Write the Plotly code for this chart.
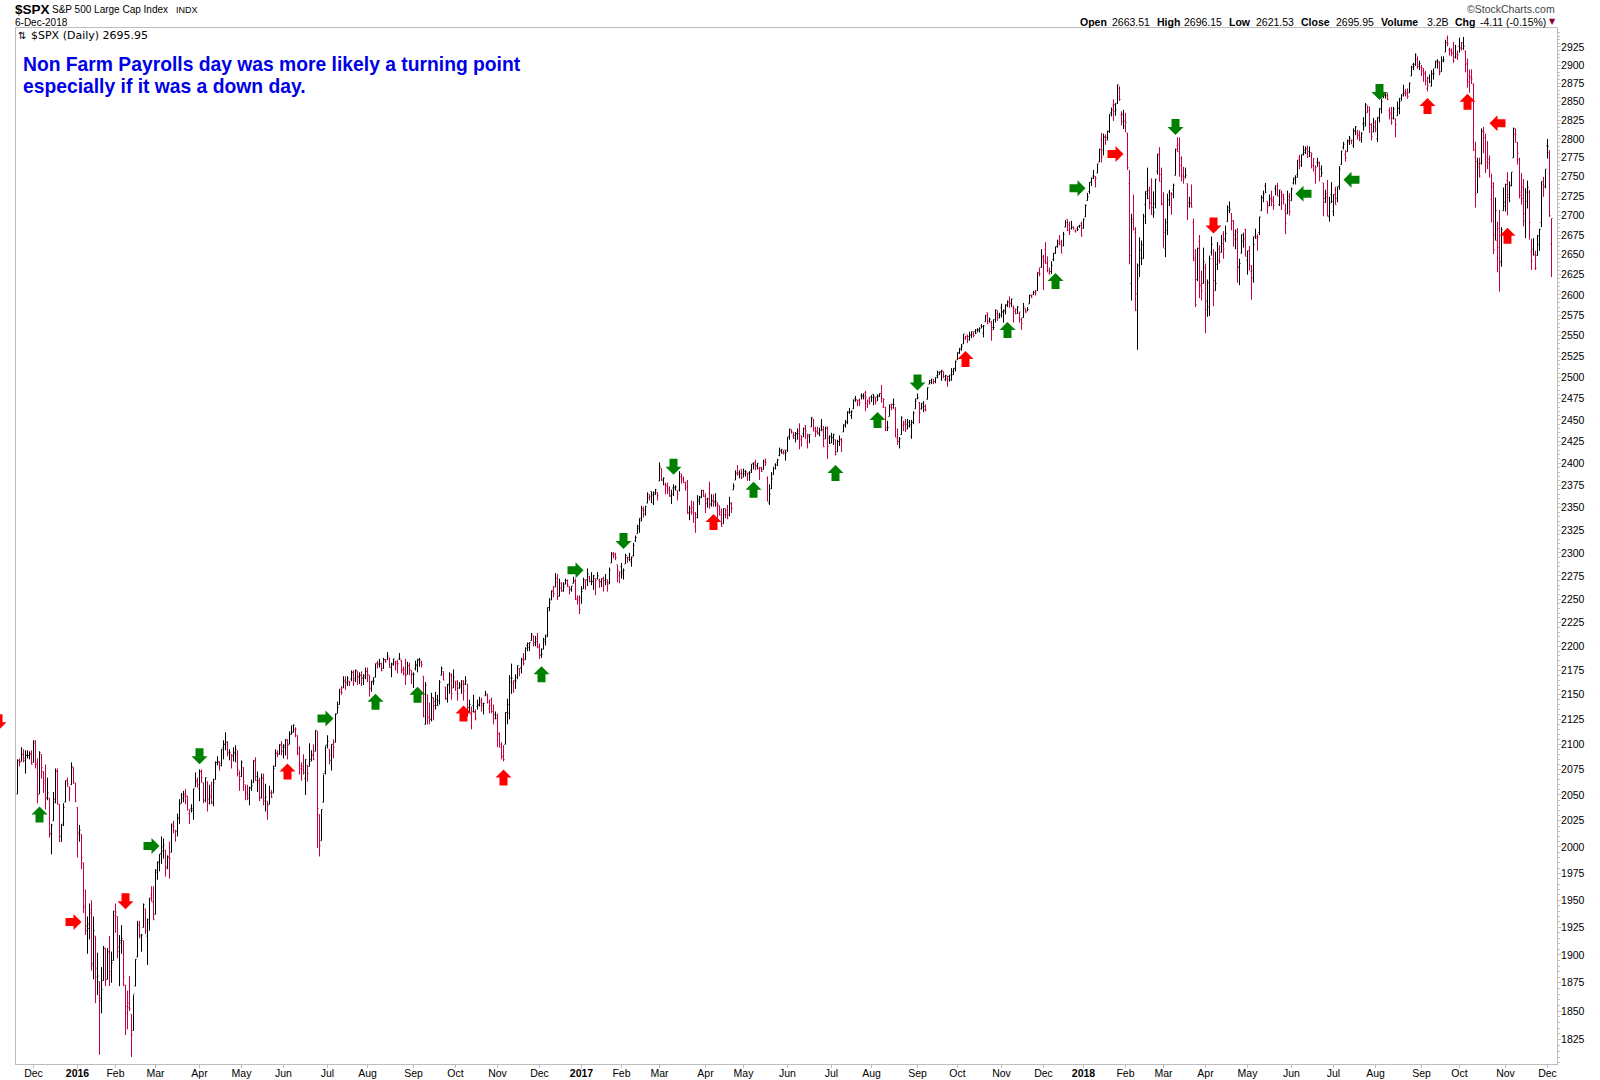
import math
import plotly.graph_objects as go

# Each month: daily bars as open, high, low, close
nov15=[[2051,2085,2051,2084],[2084,2086,2078,2082],[2083,2097,2083,2090],[2090,2095,2082,2086],[2084,2094,2071,2089],[2089,2094,2086,2089],[2089,2093,2085,2090],[2091,2094,2080,2080]]
dec15=[[2082,2104,2082,2103],[2101,2104,2076,2080],[2081,2086,2042,2050],[2051,2093,2051,2092],[2090,2090,2066,2077],[2073,2073,2052,2064],[2061,2080,2036,2047],[2047,2067,2045,2052],[2047,2047,2009,2012],[2013,2022,1993,2021],[2025,2053,2025,2043],[2046,2076,2042,2073],[2074,2076,2041,2041],[2041,2041,2005,2005],[2010,2022,2005,2021],[2023,2042,2020,2038],[2043,2064,2043,2064],[2064,2067,2058,2061],[2058,2058,2044,2056],[2060,2082,2060,2078],[2077,2077,2061,2063],[2061,2062,2043,2044]]
jan16=[[2038,2038,1990,2012],[2014,2021,2005,2016],[2012,2012,1979,1990],[1985,1985,1938,1943],[1945,1960,1918,1922],[1926,1935,1901,1924],[1928,1947,1914,1938],[1941,1950,1886,1890],[1892,1935,1878,1922],[1917,1917,1857,1880],[1888,1902,1864,1881],[1876,1876,1812,1859],[1861,1889,1848,1869],[1877,1908,1877,1906],[1906,1906,1872,1878],[1878,1906,1878,1903],[1902,1917,1872,1882],[1885,1903,1875,1893],[1895,1940,1895,1940]]
feb16=[[1936,1947,1920,1939],[1935,1935,1897,1903],[1907,1918,1872,1913],[1911,1927,1901,1915],[1913,1913,1872,1880],[1873,1873,1829,1854],[1848,1868,1834,1853],[1857,1881,1850,1852],[1847,1847,1810,1829],[1833,1864,1833,1865],[1872,1896,1872,1896],[1898,1931,1898,1927],[1928,1931,1915,1918],[1917,1919,1903,1918],[1925,1947,1925,1946],[1942,1942,1919,1922],[1917,1933,1891,1929],[1932,1952,1922,1952],[1955,1963,1949,1949],[1948,1963,1932,1932]]
mar16=[[1937,1979,1937,1978],[1976,1986,1969,1986],[1985,1993,1977,1993],[1994,2010,1984,2000],[1996,2008,1989,2002],[1997,1997,1972,1980],[1981,1992,1979,1990],[1991,2005,1970,1989],[1995,2022,1995,2022],[2020,2025,2013,2020],[2016,2016,2005,2015],[2015,2032,2010,2028],[2027,2046,2022,2041],[2042,2052,2042,2050],[2047,2054,2043,2051],[2049,2056,2041,2049],[2049,2049,2035,2036],[2032,2036,2022,2035],[2037,2041,2033,2037],[2035,2056,2026,2056],[2058,2072,2058,2064],[2063,2067,2057,2060]]
apr16=[[2056,2075,2044,2073],[2073,2075,2062,2067],[2062,2062,2042,2045],[2045,2067,2043,2067],[2063,2063,2034,2042],[2046,2060,2041,2048],[2050,2063,2041,2042],[2043,2066,2039,2062],[2065,2083,2065,2082],[2082,2088,2079,2082],[2083,2083,2074,2081],[2079,2095,2078,2095],[2097,2104,2085,2100],[2100,2112,2094,2102],[2102,2103,2088,2091],[2092,2095,2084,2092],[2090,2090,2076,2088],[2089,2097,2083,2091],[2092,2099,2082,2095],[2090,2094,2068,2075],[2071,2074,2054,2065]]
may16=[[2068,2084,2068,2082],[2077,2077,2054,2063],[2060,2060,2045,2051],[2053,2060,2045,2050],[2047,2058,2040,2057],[2057,2065,2054,2059],[2062,2084,2062,2084],[2083,2087,2064,2064],[2068,2073,2053,2064],[2062,2067,2044,2047],[2047,2071,2047,2067],[2066,2071,2040,2047],[2044,2061,2034,2048],[2044,2044,2026,2040],[2041,2059,2041,2052],[2052,2055,2047,2048],[2052,2079,2052,2076],[2078,2095,2078,2091],[2091,2094,2087,2090],[2090,2100,2090,2099],[2100,2103,2089,2097]]
jun16=[[2093,2100,2086,2099],[2097,2105,2089,2105],[2104,2105,2085,2099],[2100,2113,2100,2110],[2110,2119,2110,2112],[2112,2120,2112,2119],[2115,2117,2107,2115],[2109,2109,2089,2096],[2091,2098,2070,2079],[2076,2082,2064,2075],[2078,2090,2070,2072],[2066,2085,2050,2085],[2079,2079,2063,2071],[2078,2101,2078,2083],[2085,2094,2083,2089],[2090,2100,2084,2085],[2093,2114,2093,2114],[2113,2113,1999,2037],[2031,2031,1991,2001],[2006,2036,2006,2036],[2043,2070,2043,2071],[2073,2098,2070,2099]]
jul16=[[2099,2109,2096,2103],[2095,2095,2080,2089],[2084,2100,2074,2100],[2100,2105,2086,2097],[2102,2131,2102,2130],[2131,2143,2131,2137],[2140,2156,2140,2153],[2156,2159,2150,2152],[2157,2169,2157,2164],[2165,2169,2155,2162],[2163,2169,2159,2167],[2164,2164,2159,2163],[2166,2175,2164,2173],[2173,2175,2159,2165],[2167,2176,2163,2175],[2174,2174,2160,2169],[2168,2173,2161,2170],[2170,2174,2159,2167],[2167,2171,2160,2170],[2168,2178,2166,2174]]
aug16=[[2174,2178,2163,2171],[2170,2170,2148,2157],[2156,2164,2153,2164],[2163,2168,2160,2164],[2168,2182,2168,2182],[2183,2185,2177,2181],[2182,2187,2178,2182],[2182,2183,2174,2175],[2177,2188,2177,2186],[2186,2187,2183,2184],[2186,2194,2186,2190],[2188,2188,2178,2178],[2178,2183,2168,2182],[2181,2187,2180,2187],[2184,2185,2175,2184],[2182,2186,2172,2182],[2187,2193,2186,2187],[2185,2186,2172,2176],[2175,2179,2170,2172],[2176,2187,2160,2170],[2171,2184,2171,2180],[2180,2183,2170,2176],[2175,2175,2161,2171]]
sep16=[[2171,2173,2157,2171],[2177,2185,2175,2180],[2181,2187,2173,2186],[2186,2188,2179,2186],[2183,2185,2178,2181],[2169,2169,2127,2128],[2120,2163,2120,2160],[2150,2150,2120,2127],[2127,2142,2120,2125],[2125,2152,2123,2147],[2147,2147,2124,2139],[2143,2153,2135,2139],[2145,2150,2139,2139],[2144,2165,2140,2163],[2170,2179,2170,2177],[2174,2174,2165,2165],[2158,2158,2145,2146],[2146,2161,2142,2160],[2161,2173,2151,2171],[2169,2172,2145,2151],[2157,2176,2157,2168]]
oct16=[[2164,2164,2154,2161],[2164,2165,2144,2151],[2157,2163,2156,2160],[2158,2165,2151,2161],[2164,2165,2144,2154],[2161,2169,2160,2164],[2161,2161,2128,2137],[2137,2145,2132,2140],[2130,2138,2115,2133],[2139,2150,2132,2133],[2132,2135,2124,2126],[2138,2145,2135,2139],[2140,2148,2138,2144],[2142,2147,2133,2141],[2139,2142,2130,2141],[2149,2154,2149,2151],[2149,2151,2141,2143],[2136,2145,2131,2139],[2145,2147,2131,2133],[2133,2140,2120,2126],[2130,2133,2125,2126]]
nov16=[[2129,2131,2097,2111],[2110,2112,2097,2097],[2100,2102,2085,2088],[2088,2099,2083,2085],[2100,2132,2100,2132],[2132,2146,2120,2140],[2131,2170,2125,2163],[2167,2182,2151,2167],[2162,2165,2152,2164],[2165,2171,2156,2164],[2168,2180,2166,2180],[2177,2177,2169,2177],[2178,2188,2172,2187],[2186,2193,2180,2182],[2186,2199,2186,2198],[2201,2204,2195,2203],[2199,2204,2195,2204],[2206,2214,2206,2213],[2211,2211,2200,2202],[2204,2211,2200,2205],[2208,2214,2198,2199]]
dec16=[[2200,2203,2187,2191],[2191,2198,2188,2192],[2197,2209,2197,2205],[2207,2212,2201,2212],[2210,2241,2210,2241],[2241,2251,2237,2246],[2249,2259,2249,2259],[2258,2264,2252,2256],[2263,2278,2263,2272],[2268,2277,2249,2253],[2253,2272,2253,2262],[2267,2268,2258,2258],[2259,2268,2258,2263],[2266,2272,2266,2270],[2270,2271,2263,2265],[2263,2264,2255,2261],[2260,2264,2258,2264],[2267,2274,2267,2269],[2270,2272,2249,2250],[2250,2254,2244,2249],[2252,2254,2234,2239]]
jan17=[[2251,2264,2245,2258],[2261,2273,2261,2271],[2269,2271,2260,2270],[2271,2283,2264,2277],[2274,2275,2268,2269],[2269,2279,2265,2269],[2269,2276,2260,2275],[2272,2272,2254,2270],[2272,2279,2271,2275],[2270,2272,2262,2268],[2269,2272,2263,2272],[2272,2274,2258,2264],[2270,2277,2265,2271],[2268,2271,2258,2266],[2268,2284,2266,2281],[2289,2301,2289,2298],[2299,2301,2294,2297],[2299,2300,2292,2295],[2287,2287,2268,2281],[2275,2280,2267,2279]]
feb17=[[2285,2289,2272,2280],[2277,2283,2271,2281],[2288,2299,2288,2297],[2295,2296,2289,2293],[2295,2300,2291,2293],[2290,2296,2285,2295],[2297,2311,2296,2308],[2313,2319,2312,2317],[2321,2331,2321,2329],[2327,2338,2322,2338],[2335,2352,2335,2349],[2347,2351,2339,2347],[2343,2352,2341,2351],[2355,2367,2355,2365],[2361,2365,2358,2362],[2368,2368,2355,2364],[2355,2368,2353,2367],[2365,2371,2364,2370],[2367,2367,2358,2364]]
mar17=[[2380,2401,2380,2396],[2394,2394,2380,2381],[2381,2384,2375,2383],[2376,2378,2365,2375],[2374,2378,2365,2369],[2371,2374,2362,2363],[2363,2370,2354,2365],[2372,2376,2363,2373],[2372,2375,2369,2373],[2369,2369,2358,2365],[2370,2391,2368,2385],[2388,2388,2377,2381],[2383,2385,2378,2378],[2378,2379,2369,2373],[2379,2381,2343,2344],[2344,2352,2336,2349],[2345,2358,2342,2345],[2350,2357,2333,2344],[2329,2345,2322,2342],[2339,2364,2338,2359],[2357,2363,2353,2362],[2361,2370,2361,2369],[2369,2370,2362,2363]]
apr17=[[2362,2366,2344,2359],[2355,2361,2350,2360],[2366,2379,2349,2353],[2354,2365,2351,2358],[2357,2365,2351,2356],[2357,2366,2351,2357],[2354,2356,2335,2353],[2352,2352,2341,2345],[2342,2349,2329,2329],[2332,2349,2332,2349],[2342,2349,2338,2342],[2347,2353,2337,2338],[2342,2362,2340,2355],[2354,2356,2344,2349],[2370,2377,2370,2374],[2381,2392,2381,2389],[2388,2398,2386,2387],[2389,2392,2383,2388],[2393,2393,2382,2384]]
may17=[[2388,2394,2384,2388],[2391,2392,2385,2391],[2389,2389,2380,2388],[2389,2391,2380,2389],[2392,2399,2389,2399],[2400,2401,2393,2399],[2401,2404,2392,2397],[2397,2400,2393,2400],[2394,2396,2381,2394],[2395,2396,2390,2391],[2393,2404,2393,2402],[2405,2405,2397,2401],[2383,2385,2357,2357],[2355,2376,2353,2365],[2371,2390,2371,2382],[2387,2396,2387,2394],[2398,2400,2393,2398],[2401,2405,2397,2404],[2409,2418,2408,2415],[2414,2416,2411,2416],[2412,2415,2410,2412],[2415,2415,2403,2412]]
jun17=[[2415,2430,2413,2430],[2431,2440,2427,2439],[2437,2439,2434,2436],[2431,2436,2428,2429],[2432,2436,2424,2434],[2434,2440,2427,2434],[2437,2446,2416,2432],[2427,2432,2419,2430],[2434,2441,2430,2440],[2443,2444,2428,2437],[2424,2434,2417,2433],[2431,2433,2423,2433],[2442,2453,2442,2453],[2451,2451,2437,2437],[2440,2442,2430,2436],[2437,2442,2433,2435],[2434,2441,2431,2438],[2443,2451,2437,2439],[2437,2443,2419,2419],[2428,2442,2428,2440],[2442,2442,2405,2419],[2429,2432,2422,2423]]
jul17=[[2431,2435,2423,2429],[2430,2434,2421,2433],[2427,2427,2409,2410],[2413,2427,2413,2425],[2425,2432,2420,2427],[2427,2429,2413,2425],[2436,2445,2436,2443],[2445,2450,2441,2447],[2448,2460,2445,2459],[2459,2464,2457,2459],[2455,2461,2451,2460],[2463,2474,2463,2473],[2475,2478,2471,2474],[2473,2473,2466,2473],[2473,2475,2466,2470],[2478,2481,2474,2477],[2479,2481,2474,2478],[2482,2484,2460,2476],[2469,2474,2464,2472],[2475,2477,2468,2470]]
aug17=[[2477,2479,2471,2476],[2480,2480,2467,2478],[2476,2477,2468,2472],[2477,2480,2472,2477],[2478,2481,2477,2481],[2481,2491,2470,2475],[2465,2475,2464,2474],[2465,2465,2437,2438],[2441,2449,2437,2441],[2454,2468,2454,2465],[2468,2469,2461,2464],[2468,2475,2463,2468],[2462,2465,2430,2430],[2428,2440,2421,2425],[2425,2430,2417,2428],[2433,2454,2433,2453],[2444,2449,2437,2445],[2447,2451,2436,2439],[2445,2451,2439,2443],[2447,2450,2441,2444],[2431,2450,2428,2447],[2447,2460,2445,2458],[2463,2475,2463,2472]]
sep17=[[2475,2481,2474,2476],[2470,2471,2446,2458],[2463,2470,2462,2465],[2469,2472,2459,2466],[2462,2468,2460,2461],[2474,2488,2474,2488],[2492,2497,2492,2496],[2494,2498,2492,2498],[2494,2498,2492,2495],[2495,2500,2493,2500],[2502,2508,2499,2503],[2506,2507,2503,2506],[2507,2509,2496,2508],[2507,2507,2499,2501],[2497,2503,2496,2502],[2499,2502,2489,2497],[2501,2503,2495,2497],[2503,2511,2496,2507],[2503,2511,2503,2510],[2511,2520,2507,2519]]
oct17=[[2521,2530,2521,2529],[2530,2535,2528,2535],[2533,2540,2532,2537],[2540,2552,2540,2552],[2547,2550,2545,2549],[2551,2551,2541,2545],[2549,2555,2544,2551],[2550,2555,2547,2555],[2552,2555,2548,2550],[2555,2558,2552,2553],[2557,2559,2554,2557],[2557,2560,2554,2559],[2562,2564,2559,2561],[2553,2563,2548,2562],[2567,2575,2567,2575],[2578,2578,2564,2565],[2568,2572,2566,2570],[2566,2568,2544,2557],[2560,2570,2557,2560],[2570,2582,2566,2581],[2577,2581,2568,2572],[2575,2578,2571,2575]]
nov17=[[2584,2589,2572,2579],[2579,2582,2566,2580],[2581,2588,2576,2588],[2587,2593,2585,2591],[2592,2598,2584,2590],[2589,2595,2585,2595],[2584,2587,2566,2584],[2580,2583,2576,2582],[2577,2586,2577,2585],[2577,2579,2566,2579],[2570,2572,2557,2565],[2572,2590,2572,2585],[2583,2583,2578,2578],[2580,2585,2580,2582],[2589,2600,2589,2599],[2600,2600,2596,2597],[2600,2605,2600,2603],[2603,2606,2599,2602],[2605,2628,2605,2627],[2628,2634,2623,2626],[2634,2657,2634,2648]]
dec17=[[2645,2650,2606,2642],[2657,2666,2639,2639],[2640,2648,2628,2630],[2627,2634,2625,2629],[2629,2642,2626,2637],[2644,2652,2642,2652],[2652,2660,2651,2660],[2661,2669,2659,2664],[2667,2675,2662,2663],[2666,2669,2652,2652],[2661,2679,2661,2676],[2685,2694,2685,2691],[2695,2695,2680,2681],[2688,2692,2675,2679],[2683,2693,2682,2685],[2685,2686,2682,2683],[2680,2682,2678,2680],[2683,2686,2680,2682],[2686,2688,2684,2687],[2690,2692,2673,2674]]
jan18=[[2684,2696,2683,2695],[2698,2714,2698,2713],[2719,2729,2719,2724],[2731,2743,2728,2743],[2743,2749,2738,2748],[2751,2759,2747,2751],[2745,2751,2736,2748],[2755,2767,2755,2767],[2770,2787,2769,2786],[2799,2808,2769,2776],[2785,2807,2778,2803],[2802,2806,2792,2798],[2802,2811,2798,2810],[2810,2833,2808,2833],[2835,2842,2830,2839],[2845,2853,2824,2837],[2846,2848,2831,2839],[2848,2873,2847,2873],[2868,2871,2851,2853],[2832,2837,2818,2823],[2833,2839,2813,2824]]
feb18=[[2817,2835,2809,2822],[2808,2808,2759,2762],[2741,2759,2638,2649],[2614,2702,2593,2695],[2691,2727,2681,2682],[2678,2685,2580,2581],[2601,2639,2533,2620],[2637,2672,2622,2656],[2646,2668,2637,2663],[2645,2702,2645,2699],[2714,2731,2689,2731],[2728,2762,2721,2732],[2722,2737,2708,2716],[2716,2748,2701,2701],[2710,2731,2697,2704],[2715,2747,2709,2747],[2757,2780,2753,2780],[2778,2789,2744,2744],[2753,2762,2713,2714]]
mar18=[[2715,2730,2659,2678],[2658,2696,2647,2691],[2681,2728,2675,2720],[2730,2733,2712,2728],[2710,2730,2701,2727],[2733,2741,2722,2739],[2752,2787,2752,2786],[2791,2802,2783,2783],[2793,2802,2750,2765],[2774,2777,2744,2750],[2752,2763,2741,2747],[2750,2762,2748,2752],[2741,2741,2694,2712],[2716,2724,2710,2716],[2715,2740,2710,2711],[2691,2696,2642,2643],[2646,2657,2585,2588],[2619,2659,2617,2658],[2667,2675,2596,2612],[2611,2630,2593,2605],[2614,2659,2614,2641]]
apr18=[[2634,2639,2553,2582],[2592,2619,2573,2615],[2585,2649,2574,2645],[2653,2673,2649,2663],[2645,2657,2586,2605],[2618,2654,2605,2614],[2638,2666,2631,2657],[2643,2662,2639,2642],[2653,2675,2653,2664],[2676,2680,2645,2657],[2670,2687,2666,2677],[2692,2713,2692,2706],[2710,2718,2703,2708],[2702,2703,2681,2693],[2693,2694,2660,2670],[2675,2682,2657,2670],[2680,2684,2615,2635],[2634,2645,2612,2639],[2652,2676,2652,2667],[2675,2678,2659,2670],[2682,2683,2648,2648]]
may18=[[2643,2655,2625,2655],[2655,2661,2630,2636],[2629,2637,2594,2630],[2621,2673,2615,2663],[2673,2683,2670,2673],[2671,2676,2655,2672],[2678,2698,2675,2698],[2706,2726,2706,2723],[2723,2732,2717,2728],[2738,2742,2729,2730],[2718,2718,2702,2711],[2713,2727,2712,2722],[2720,2732,2712,2720],[2718,2725,2707,2713],[2735,2739,2726,2733],[2738,2742,2725,2725],[2714,2733,2712,2733],[2730,2732,2707,2727],[2724,2728,2714,2721],[2706,2715,2676,2690],[2702,2732,2702,2725],[2720,2729,2700,2705]]
jun18=[[2719,2736,2719,2734],[2742,2749,2740,2746],[2749,2752,2740,2749],[2753,2772,2749,2772],[2775,2779,2760,2770],[2765,2779,2763,2779],[2780,2791,2778,2782],[2785,2790,2780,2787],[2787,2791,2775,2776],[2783,2790,2776,2782],[2777,2782,2761,2780],[2765,2774,2757,2774],[2754,2765,2741,2762],[2769,2775,2763,2767],[2769,2770,2744,2750],[2760,2765,2750,2755],[2742,2742,2699,2717],[2722,2733,2716,2724],[2728,2746,2699,2699],[2699,2724,2692,2716],[2727,2743,2716,2718]]
jul18=[[2705,2727,2699,2727],[2733,2737,2714,2714],[2722,2737,2717,2737],[2738,2764,2733,2760],[2766,2784,2766,2784],[2789,2796,2786,2793],[2779,2785,2770,2775],[2783,2799,2783,2798],[2796,2804,2792,2801],[2798,2799,2793,2798],[2791,2814,2788,2810],[2811,2817,2805,2816],[2809,2812,2799,2805],[2805,2811,2797,2802],[2799,2809,2795,2807],[2820,2829,2811,2821],[2817,2848,2817,2846],[2835,2845,2835,2838],[2843,2843,2808,2819],[2819,2821,2798,2803],[2809,2828,2809,2816]]
aug18=[[2822,2825,2809,2813],[2800,2829,2796,2828],[2829,2841,2822,2840],[2841,2854,2834,2850],[2855,2863,2855,2858],[2858,2862,2854,2858],[2859,2862,2852,2853],[2838,2842,2826,2833],[2835,2843,2819,2822],[2828,2843,2826,2840],[2827,2827,2802,2819],[2831,2850,2831,2841],[2841,2855,2833,2850],[2854,2860,2851,2858],[2861,2873,2857,2863],[2861,2867,2857,2862],[2860,2868,2854,2857],[2862,2876,2862,2875],[2885,2899,2885,2897],[2901,2903,2893,2898],[2901,2916,2899,2914],[2908,2912,2895,2901],[2898,2906,2893,2902]]
sep18=[[2897,2900,2885,2896],[2892,2896,2877,2888],[2889,2892,2872,2878],[2868,2884,2864,2872],[2882,2887,2875,2877],[2871,2893,2871,2888],[2888,2895,2880,2888],[2896,2906,2896,2904],[2906,2908,2895,2905],[2903,2905,2886,2889],[2891,2912,2891,2905],[2907,2912,2904,2907],[2918,2935,2918,2931],[2937,2941,2926,2930],[2921,2924,2913,2919],[2921,2923,2912,2916],[2917,2932,2903,2906],[2911,2928,2909,2915],[2911,2920,2907,2914]]
oct18=[[2926,2938,2917,2924],[2923,2932,2920,2923],[2931,2939,2921,2926],[2919,2920,2890,2901],[2902,2909,2869,2885],[2877,2894,2862,2884],[2882,2894,2874,2881],[2873,2875,2784,2786],[2776,2796,2710,2728],[2770,2775,2729,2767],[2763,2775,2749,2751],[2768,2814,2766,2810],[2811,2816,2781,2809],[2802,2807,2755,2769],[2776,2797,2760,2768],[2773,2778,2749,2756],[2721,2754,2691,2741],[2737,2743,2651,2656],[2675,2723,2668,2706],[2668,2692,2628,2659],[2683,2707,2604,2641],[2641,2685,2635,2682],[2706,2736,2706,2712]]
nov18=[[2717,2741,2705,2740],[2745,2756,2700,2723],[2727,2744,2717,2739],[2738,2756,2738,2756],[2775,2815,2775,2814],[2806,2814,2795,2806],[2795,2796,2766,2781],[2773,2775,2722,2726],[2730,2755,2714,2722],[2737,2747,2686,2702],[2693,2735,2671,2730],[2718,2745,2709,2736],[2730,2733,2669,2691],[2654,2670,2631,2642],[2657,2671,2649,2650],[2633,2655,2631,2633],[2649,2675,2649,2674],[2663,2683,2655,2682],[2691,2744,2685,2744],[2740,2750,2724,2738],[2737,2760,2735,2760]]
dec18=[[2791,2800,2774,2790],[2782,2785,2698,2700],[2664,2696,2622,2696]]

months=[nov15,dec15,jan16,feb16,mar16,apr16,may16,jun16,jul16,aug16,sep16,oct16,nov16,dec16,jan17,feb17,mar17,apr17,may17,jun17,jul17,aug17,sep17,oct17,nov17,dec17,jan18,feb18,mar18,apr18,may18,jun18,jul18,aug18,sep18,oct18,nov18,dec18]
month_labels=["","Dec","<b>2016</b>","Feb","Mar","Apr","May","Jun","Jul","Aug","Sep","Oct","Nov","Dec","<b>2017</b>","Feb","Mar","Apr","May","Jun","Jul","Aug","Sep","Oct","Nov","Dec","<b>2018</b>","Feb","Mar","Apr","May","Jun","Jul","Aug","Sep","Oct","Nov","Dec"]
price_ticks=list(range(1825,2926,25))
minor_ticks=[p for p in range(1805,2950,5) if p%25]

# Non-farm-payrolls arrows: bar position, price, direction, colour
arrow_bar=[-9.5,11,28,54,67,91,135,154,179,200,223,243,262,279,303,328,348,368,409,430,450,474,495,519,530,549,579,598,643,667,681,705,725,740,745]
arrow_price=[2122,2031,1930,1949,2001,2088,2073,2126,2143,2150,2131,2067,2171,2281,2313,2396,2334,2370,2389,2450,2494,2522,2557,2617,2735,2780,2816,2687,2728,2746,2863,2844,2850,2821,2674]
arrow_dir=["d","u","r","d","r","d","u","r","u","u","u","u","u","r","d","d","u","u","u","u","d","u","u","u","r","r","d","d","l","l","d","u","u","l","u"]
arrow_col=["r","g","r","r","g","g","r","g","g","g","r","r","g","g","g","g","r","g","g","g","g","r","g","g","g","r","g","r","g","g","g","r","r","r","r"]

rows=[r for m in months for r in m]
xs=list(range(len(rows)))
prev=[rows[0][0]]+[r[3] for r in rows[:-1]]
up=[i for i in xs if rows[i][3]>=prev[i]]
dn=[i for i in xs if rows[i][3]<prev[i]]
tick_x=[];n=0
for m in months:
    tick_x.append(n); n+=len(m)

RED_BAR="#c8003c"
fig=go.Figure()
for idx,col in ((up,"#000000"),(dn,RED_BAR)):
    fig.add_trace(go.Ohlc(x=idx,open=[rows[i][0] for i in idx],high=[rows[i][1] for i in idx],low=[rows[i][2] for i in idx],close=[rows[i][3] for i in idx],
        increasing_line=dict(color=col,width=1),decreasing_line=dict(color=col,width=1),tickwidth=0.5,showlegend=False,hoverinfo="skip"))

L,T,R,B=16,28,43,16
W,H=1600-L-R,1080-T-B
xl,xr=(16-17.5)/2,(1557-17.5)/2
def fx(p): return (p-L)/W
def fy(p): return 1-(p-T)/H
def txt(px,py,s,size=10,color="#000",font="Liberation Sans"):
    fig.add_annotation(xref="paper",yref="paper",x=fx(px),y=fy(py),xanchor="left",yanchor="middle",text=s,showarrow=False,align="left",
        font=dict(size=size,color=color,family=font),borderpad=0,borderwidth=0)
txt(15,10,"<b>$SPX</b>",13.5)
txt(52,10,"S&amp;P 500 Large Cap Index",10)
txt(176,10,"INDX",9)
txt(15,22.5,"6-Dec-2018",10)
txt(18,35,"⇅",10,font="DejaVu Sans")
txt(31,35,"$SPX (Daily) 2695.95",11,font="DejaVu Sans")
txt(23,64,"<b>Non Farm Payrolls day was more likely a turning point</b>",19.3,"#0000e6")
txt(23,87,"<b>especially if it was a down day.</b>",19.3,"#0000e6")
txt(1467,9,"©StockCharts.com",10.5,"#444")
for px,s in [(1080,"<b>Open</b>"),(1112,"2663.51"),(1157,"<b>High</b>"),(1184,"2696.15"),(1229,"<b>Low</b>"),(1256,"2621.53"),(1301,"<b>Close</b>"),(1336,"2695.95"),(1381,"<b>Volume</b>"),(1427,"3.2B"),(1455,"<b>Chg</b>"),(1480,"-4.11 (-0.15%)")]:
    txt(px,22,s,10.5)
txt(1549,22,"▼",8,"#8b0030",font="DejaVu Sans")

PATHS={"u":"M0,8 L8,0 L4,0 L4,-8 L-4,-8 L-4,0 L-8,0 Z",
       "d":"M0,-8 L8,0 L4,0 L4,8 L-4,8 L-4,0 L-8,0 Z",
       "r":"M8,0 L0,8 L0,4 L-8,4 L-8,-4 L0,-4 L0,-8 Z",
       "l":"M-8,0 L0,8 L0,4 L8,4 L8,-4 L0,-4 L0,-8 Z"}
COL={"r":"#ff0000","g":"#008000"}
for b,p,d,c in zip(arrow_bar,arrow_price,arrow_dir,arrow_col):
    inside=b>=xl
    fig.add_shape(type="path",xref="x" if inside else "paper",yref="y",xsizemode="pixel",ysizemode="pixel",
        xanchor=b if inside else (b-xl)/(xr-xl),yanchor=p,path=PATHS[d],fillcolor=COL[c],line=dict(width=0),layer="above")

GRID="#bdbdbd"
fig.update_layout(width=1600,height=1080,margin=dict(l=L,r=R,t=T,b=B,pad=0,autoexpand=False),paper_bgcolor="#fff",plot_bgcolor="#fff",showlegend=False,
    font=dict(family="Liberation Sans",color="#000"),
    xaxis=dict(automargin=False,range=[xl,xr],rangeslider=dict(visible=False),showgrid=False,zeroline=False,tickmode="array",tickvals=tick_x[1:],ticktext=month_labels[1:],
        ticks="outside",ticklen=3,tickcolor=GRID,tickwidth=1,showline=True,linecolor=GRID,linewidth=1,mirror=True,tickfont=dict(size=10.5),tickangle=0,ticklabelstandoff=-4),
    yaxis=dict(automargin=False,type="log",side="right",range=[math.log10(1804),math.log10(2951.5)],showgrid=False,zeroline=False,tickmode="array",tickvals=price_ticks,ticktext=[str(p) for p in price_ticks],
        ticks="outside",ticklen=3,tickcolor=GRID,tickwidth=1,showline=True,linecolor=GRID,linewidth=1,mirror=True,tickfont=dict(size=10.5),ticklabelstandoff=-2,
        minor=dict(tickmode="array",tickvals=minor_ticks,ticks="outside",ticklen=2,tickcolor=GRID,tickwidth=1,showgrid=False)))
fig.write_html("out.html",post_script="document.body.style.margin='0';document.body.style.overflow='hidden';",config={"displayModeBar":False})
